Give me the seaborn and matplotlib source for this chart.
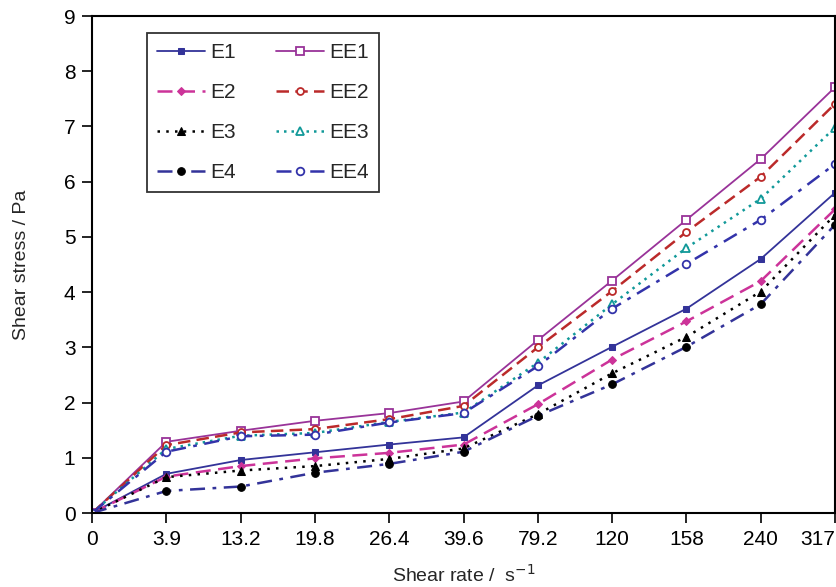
import matplotlib
matplotlib.use("Agg")
import matplotlib.pyplot as plt
import seaborn as sns
import numpy as np

shear_rate_labels = ["0", "3.9", "13.2", "19.8", "26.4", "39.6", "79.2", "120", "158", "240", "317"]

E1 = [0, 0.71, 0.96, 1.10, 1.24, 1.37, 2.31, 3.01, 3.70, 4.60, 5.80]
E2 = [0, 0.66, 0.85, 0.99, 1.09, 1.24, 1.97, 2.78, 3.47, 4.20, 5.50]
E3 = [0, 0.65, 0.77, 0.85, 0.98, 1.17, 1.79, 2.53, 3.19, 4.01, 5.40]
E4 = [0, 0.40, 0.48, 0.73, 0.89, 1.11, 1.76, 2.33, 3.01, 3.78, 5.22]
EE1 = [0, 1.29, 1.49, 1.67, 1.81, 2.02, 3.13, 4.21, 5.31, 6.41, 7.71]
EE2 = [0, 1.23, 1.46, 1.52, 1.70, 1.94, 3.00, 4.02, 5.09, 6.09, 7.41]
EE3 = [0, 1.16, 1.40, 1.45, 1.65, 1.82, 2.72, 3.78, 4.80, 5.69, 6.98]
EE4 = [0, 1.11, 1.39, 1.42, 1.64, 1.81, 2.66, 3.70, 4.51, 5.31, 6.32]

series = [
    ("E1", E1, dict(color="#333399", linestyle="-", marker="s", markerfacecolor="#333399", markeredgecolor="#333399", markersize=5)),
    ("E2", E2, dict(color="#CC3399", linestyle=(0, (6, 3)), marker="D", markerfacecolor="#CC3399", markeredgecolor="#CC3399", markersize=4.5)),
    ("E3", E3, dict(color="black", linestyle=(0, (1, 2.5)), marker="^", markerfacecolor="black", markeredgecolor="black", markersize=6)),
    ("E4", E4, dict(color="#333399", linestyle=(0, (6, 3, 1.5, 3)), marker="o", markerfacecolor="black", markeredgecolor="black", markersize=5.5)),
    ("EE1", EE1, dict(color="#993399", linestyle="-", marker="s", markerfacecolor="white", markeredgecolor="#993399", markeredgewidth=1.3, markersize=5.5)),
    ("EE2", EE2, dict(color="#BB2A2A", linestyle=(0, (5, 2.5)), marker="o", markerfacecolor="white", markeredgecolor="#BB2A2A", markeredgewidth=1.3, markersize=5)),
    ("EE3", EE3, dict(color="#119999", linestyle=(0, (1, 2)), marker="^", markerfacecolor="white", markeredgecolor="#119999", markeredgewidth=1.3, markersize=6)),
    ("EE4", EE4, dict(color="#3333AA", linestyle=(0, (6, 3, 1.5, 3)), marker="o", markerfacecolor="white", markeredgecolor="#3333AA", markeredgewidth=1.3, markersize=5.5)),
]

sns.set_style("ticks")
plt.rcParams["font.family"] = ["Liberation Sans", "DejaVu Sans"]

fig = plt.figure(figsize=(8.37, 5.87), dpi=100)
ax = fig.add_axes([0.110, 0.126, 0.8876, 0.8467])

x = np.arange(len(shear_rate_labels))
for name, vals, kw in series:
    lw = 1.3 if kw["linestyle"] == "-" else 1.8
    sns.lineplot(x=x, y=vals, ax=ax, label=name, linewidth=lw, **kw)

ax.set_xlim(0, len(shear_rate_labels) - 1)
ax.set_ylim(0, 9)
ax.set_xticks(x)
ax.set_xticklabels(shear_rate_labels)
ax.set_yticks(range(0, 10))
ax.tick_params(axis="both", direction="out", length=7, width=1.2, labelsize=15, colors="black", pad=5)
last = ax.get_xticklabels()[-1]
last.set_horizontalalignment("right")
for s in ax.spines.values():
    s.set_visible(True)
    s.set_linewidth(1.5)
    s.set_color("black")

ax.set_xlabel("Shear rate /  s$^{-1}$", fontsize=14, labelpad=11)
ax.set_ylabel("Shear stress / Pa", fontsize=14, labelpad=24)

leg = ax.legend(ncol=2, loc="upper left", bbox_to_anchor=(0.074, 0.966), borderaxespad=0,
                fontsize=15, frameon=True, fancybox=False, edgecolor="black",
                handlelength=2.3, labelspacing=1.0, columnspacing=1.9, handletextpad=0.25,
                borderpad=0.5)
leg.get_frame().set_linewidth(1.3)

fig.savefig("out.png", dpi=100)
